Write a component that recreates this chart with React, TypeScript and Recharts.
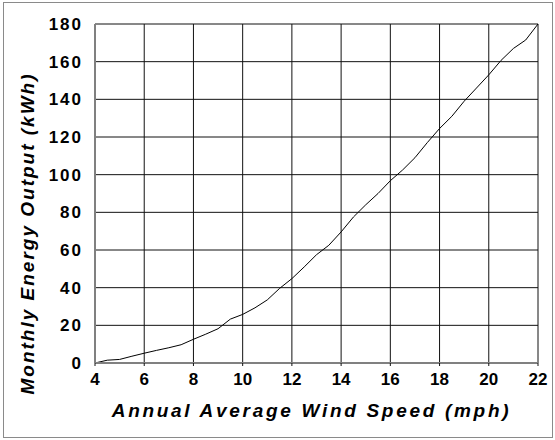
import React from 'react';
import {
  LineChart,
  Line,
  XAxis,
  YAxis,
  CartesianGrid,
  Label,
} from 'recharts';

// wind speed (mph)
const speeds = [
  4, 4.5, 5, 5.5, 6, 6.5, 7, 7.5, 8, 8.5, 9, 9.5, 10, 10.5, 11, 11.5, 12,
  12.5, 13, 13.5, 14, 14.5, 15, 15.5, 16, 16.5, 17, 17.5, 18, 18.5, 19, 19.5,
  20, 20.5, 21, 21.5, 22,
];

// monthly energy output (kWh)
const outputs = [
  0, 1.5, 1.9, 3.6, 5.2, 6.7, 8.1, 9.7, 12.6, 15.3, 18.2, 23.3, 25.8, 29.3,
  33.5, 39.6, 44.8, 51, 57.5, 62.5, 69.6, 77.5, 84, 90, 96.8, 102.5, 109, 117,
  124.5, 131, 139, 146, 153, 160.7, 167, 171.5, 180,
];

const xTicks = [4, 6, 8, 10, 12, 14, 16, 18, 20, 22];
const yTicks = [0, 20, 40, 60, 80, 100, 120, 140, 160, 180];

const data = speeds.map((s, i) => ({ speed: s, kwh: outputs[i] }));

const FONT = 'Liberation Sans, Arial, sans-serif';

const titleStyle = {
  fontFamily: FONT,
  fontWeight: 'bold' as const,
  fontStyle: 'italic' as const,
  fontSize: 19,
  fill: '#000',
};

const XTitle = ({ viewBox }: any) => {
  const cx = viewBox.x + viewBox.width / 2 - 5;
  return (
    <text
      x={cx}
      y={viewBox.y + 54}
      textAnchor="middle"
      style={{ ...titleStyle, letterSpacing: 2.7 }}
    >
      Annual Average Wind Speed (mph)
    </text>
  );
};

const YTitle = ({ viewBox }: any) => {
  const cy = viewBox.y + viewBox.height / 2 + 40;
  const x = 34;
  return (
    <text
      x={x}
      y={cy}
      textAnchor="middle"
      transform={`rotate(-90, ${x}, ${cy})`}
      style={{ ...titleStyle, letterSpacing: 2 }}
    >
      Monthly Energy Output (kWh)
    </text>
  );
};

export default function App() {
  return (
    <div
      style={{
        position: 'absolute',
        left: 0,
        top: 0,
        width: 555,
        height: 440,
        background: '#fff',
      }}
    >
      <div
        style={{
          position: 'absolute',
          left: 3,
          top: 2,
          width: 548,
          height: 434,
          border: '1px solid #8a8a8a',
        }}
      />
      <LineChart
        width={555}
        height={440}
        data={data}
        margin={{ top: 24, right: 17, left: 0, bottom: 0 }}
      >
        <CartesianGrid stroke="#111" strokeWidth={1} />
        <XAxis
          dataKey="speed"
          type="number"
          domain={[4, 22]}
          ticks={xTicks}
          height={77}
          axisLine={{ stroke: '#808080', strokeWidth: 2 }}
          tickLine={{ stroke: '#111' }}
          tickSize={3}
          tickMargin={7}
          tick={{
            fill: '#000',
            fontSize: 17,
            fontWeight: 'bold',
            fontFamily: FONT,
          }}
        >
          <Label content={<XTitle />} />
        </XAxis>
        <YAxis
          type="number"
          domain={[0, 180]}
          ticks={yTicks}
          width={95}
          axisLine={{ stroke: '#808080', strokeWidth: 2 }}
          tickLine={false}
          tickSize={0}
          tickMargin={12}
          tick={{
            fill: '#000',
            fontSize: 17,
            fontWeight: 'bold',
            fontFamily: FONT,
            letterSpacing: 2,
          }}
        >
          <Label content={<YTitle />} />
        </YAxis>
        <Line
          type="linear"
          dataKey="kwh"
          stroke="#000"
          strokeWidth={1}
          dot={false}
          isAnimationActive={false}
        />
      </LineChart>
    </div>
  );
}
